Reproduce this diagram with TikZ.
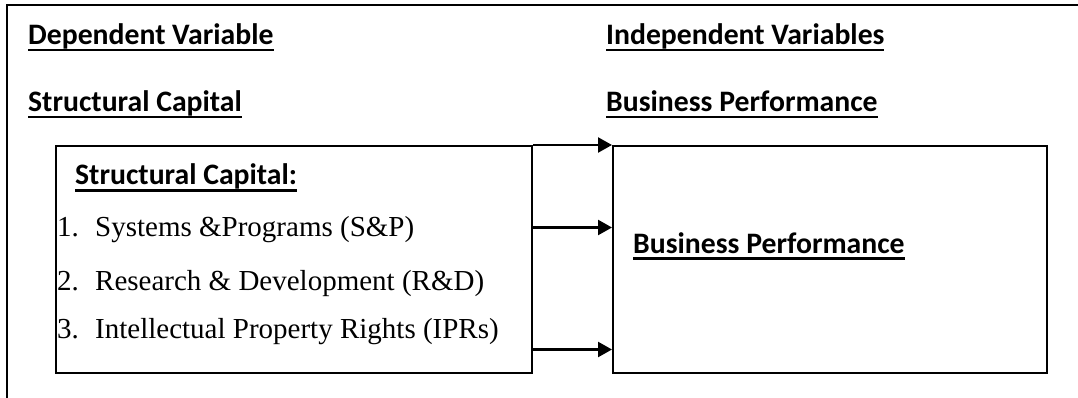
\documentclass[tikz,border=0pt]{standalone}
\usepackage{fontspec}
\usetikzlibrary{arrows.meta}
\newfontfamily\calib{Carlito}
\newfontfamily\tms{Liberation Serif}
\newcommand\ulx[1]{\setbox0=\hbox{#1}\rlap{\rule[-6.5pt]{\wd0}{2.6pt}}\box0}
\tikzset{
  hdr/.style={anchor=base west, inner sep=0pt, font=\calib\bfseries\fontsize{29.7}{34}\selectfont},
  itm/.style={anchor=base west, inner sep=0pt, font=\tms\fontsize{29}{34}\selectfont},
  box/.style={draw=black, line width=2.2pt, inner sep=0pt, anchor=north west},
  arr/.style={line width=2.4pt, -{Triangle[length=14pt,width=15pt]}},
}
\begin{document}
\begin{tikzpicture}[x=1pt,y=-1pt]
\useasboundingbox (0,0) rectangle (1078,398);
% outer frame
\draw[line width=2pt] (7,398) -- (7,5) -- (1078,5);
% headings
\node[hdr] (h1) at (28,45) {\ulx{Dependent Variable}};
\node[hdr] (h2) at (606,45) {\ulx{Independent Variables}};
\node[hdr] (h3) at (28,112) {\ulx{Structural Capital}};
\node[hdr] (h4) at (606,112) {\ulx{Business Performance}};
% boxes
\node[box, minimum width=476pt, minimum height=227pt] (L) at (55,145) {};
\node[box, minimum width=434pt, minimum height=227pt] (R) at (612,145) {};
% left box content
\node[hdr] (st) at (75,185) {\ulx{Structural Capital:}};
\node[itm] (i1) at (57,236) {\makebox[38pt][l]{1.}Systems \&Programs (S\&P)};
\node[itm] (i2) at (57,290) {\makebox[38pt][l]{2.}Research \& Development (R\&D)};
\node[itm] (i3) at (57,338) {\makebox[38pt][l]{3.}Intellectual Property Rights (IPRs)};
% right box content
\node[hdr] (bp) at (633,253) {\ulx{Business Performance}};
% arrows
\draw[arr] (L.north east) -- (R.north west);
\draw[arr] ([yshift=-82.5pt]L.north east) -- ([yshift=-82.5pt]R.north west);
\draw[arr] ([yshift=-204.5pt]L.north east) -- ([yshift=-204.5pt]R.north west);
\end{tikzpicture}
\end{document}
